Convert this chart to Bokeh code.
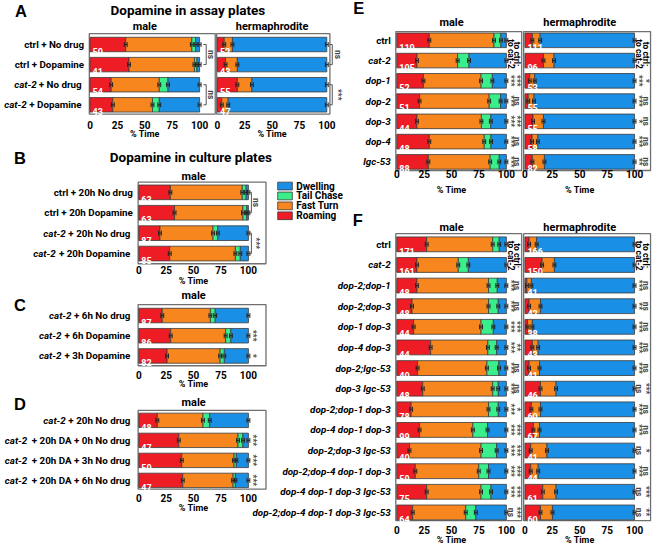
from math import pi
import numpy as np
from bokeh.plotting import figure
from bokeh.models import Range1d, ColumnDataSource
from bokeh.core.properties import value
from bokeh.embed import file_html
from bokeh.resources import INLINE

# ---------------------------------------------------------------- data
BEHAVIORS = ["Roaming", "Fast Turn", "Tail Chase", "Dwelling"]
LEGEND_ORDER = ["Dwelling", "Tail Chase", "Fast Turn", "Roaming"]

A_labels = ["ctrl + No drug", "ctrl + Dopamine", "cat-2 + No drug", "cat-2 + Dopamine"]
A_male_roam = [32.6, 35.6, 19.3, 20.8]
A_male_fast = [60.3, 59.7, 43.9, 36.2]
A_male_tail = [3.5, 2.3, 8.0, 6.2]
A_male_dwell = [3.6, 2.4, 28.8, 36.8]
A_male_n = [50, 41, 54, 43]
A_herm_roam = [6.2, 7.4, 18.2, 3.9]
A_herm_fast = [7.5, 10.8, 13.3, 5.9]
A_herm_tail = [0, 0, 0, 0]
A_herm_dwell = [86.3, 81.8, 68.5, 90.2]
A_herm_n = [52, 43, 55, 47]
A_male_sig = [(0, 1, "ns"), (2, 3, "ns")]
A_herm_sig = [(0, 1, "ns"), (2, 3, "***")]

B_labels = ["ctrl + 20h No drug", "ctrl + 20h Dopamine", "cat-2 + 20h No drug", "cat-2 + 20h Dopamine"]
B_roam = [28.8, 32.6, 19.3, 28.2]
B_fast = [65.6, 62.4, 48.4, 59.9]
B_tail = [3.5, 3.5, 4.4, 4.5]
B_dwell = [2.1, 1.5, 27.9, 7.4]
B_n = [63, 63, 87, 85]
B_sig = [(0, 1, "ns"), (2, 3, "***")]

C_labels = ["cat-2 + 6h No drug", "cat-2 + 6h Dopamine", "cat-2 + 3h Dopamine"]
C_roam = [21.4, 29.1, 25.8]
C_fast = [43.9, 50.1, 48.4]
C_tail = [4.4, 4.8, 3.8]
C_dwell = [30.3, 16.0, 22.0]
C_n = [87, 86, 82]
C_sig = ["", "***", "*"]

D_labels = ["cat-2 + 20h No drug", "cat-2 + 20h DA + 0h No drug",
            "cat-2 + 20h DA + 3h No drug", "cat-2 + 20h DA + 6h No drug"]
D_roam = [16.9, 36.5, 39.2, 40.1]
D_fast = [41.6, 54.0, 47.7, 45.9]
D_tail = [6.2, 4.5, 2.1, 2.1]
D_dwell = [35.3, 5.0, 11.0, 11.9]
D_n = [48, 47, 50, 47]
D_sig = ["", "***", "***", "***"]

E_labels = ["ctrl", "cat-2", "dop-1", "dop-2", "dop-3", "dop-4", "lgc-53"]
E_male_roam = [29.7, 18.4, 24.3, 20.8, 18.4, 29.7, 28.8]
E_male_fast = [59.0, 37.1, 52.6, 63.5, 58.8, 50.1, 56.4]
E_male_tail = [6.3, 10.4, 10.3, 10.4, 8.6, 6.2, 8.3]
E_male_dwell = [5.0, 34.1, 12.8, 5.3, 14.2, 14.0, 6.5]
E_male_n = [110, 105, 52, 51, 44, 48, 88]
E_herm_roam = [6.8, 16.9, 4.4, 3.0, 7.4, 6.5, 6.8]
E_herm_fast = [7.1, 9.7, 4.5, 5.3, 9.5, 5.3, 11.0]
E_herm_tail = [0, 0, 0, 0, 0, 0, 0]
E_herm_dwell = [86.1, 73.4, 91.1, 91.7, 83.1, 88.2, 82.2]
E_herm_n = [111, 96, 53, 55, 55, 58, 82]
E_male_vs_cat2 = ["", "", "***", "***", "***", "***", "***"]
E_male_vs_ctrl = ["", "", "***", "ns", "***", "ns", "ns"]
E_herm_vs_cat2 = ["", "", "***", "***", "*", "***", "**"]
E_herm_vs_ctrl = ["", "", "*", "ns", "ns", "ns", "ns"]

F_labels = ["ctrl", "cat-2", "dop-2;dop-1", "dop-2;dop-3", "dop-1 dop-3", "dop-4 dop-3",
            "dop-2;lgc-53", "dop-3 lgc-53", "dop-2;dop-1 dop-3", "dop-4 dop-1 dop-3",
            "dop-2;dop-3 lgc-53", "dop-2;dop-4 dop-1 dop-3", "dop-4 dop-1 dop-3 lgc-53",
            "dop-2;dop-4 dop-1 dop-3 lgc-53"]
F_male_roam = [27.3, 18.4, 18.4, 13.9, 15.4, 30.9, 19.0, 23.7, 13.1, 20.8, 11.6, 16.9, 27.3, 14.5]
F_male_fast = [60.2, 37.7, 65.3, 69.8, 61.5, 52.2, 63.2, 63.8, 70.6, 48.6, 65.3, 57.9, 49.6, 48.4]
F_male_tail = [6.0, 9.2, 8.0, 8.9, 11.2, 8.0, 11.0, 5.1, 8.9, 13.4, 14.2, 8.9, 9.1, 9.2]
F_male_dwell = [6.5, 34.7, 8.3, 7.4, 11.9, 8.9, 6.8, 7.4, 7.4, 17.2, 8.9, 16.3, 14.0, 27.9]
F_male_n = [171, 161, 48, 48, 44, 44, 40, 48, 78, 99, 40, 59, 75, 64]
F_herm_roam = [3.8, 15.7, 1.8, 3.8, 2.4, 6.8, 3.8, 14.2, 5.9, 7.7, 5.3, 5.3, 16.3, 14.2]
F_herm_fast = [6.9, 11.2, 4.1, 10.4, 4.4, 5.3, 9.5, 14.2, 8.3, 5.6, 14.8, 6.8, 12.1, 10.9]
F_herm_tail = [0] * 14
F_herm_dwell = [89.3, 73.1, 94.1, 85.8, 93.2, 87.9, 86.7, 71.6, 85.8, 86.7, 79.9, 87.9, 71.6, 74.9]
F_herm_n = [166, 150, 41, 42, 38, 43, 41, 46, 60, 67, 41, 44, 61, 60]
F_male_vs_cat2 = ["", "", "***", "***", "***", "***", "***", "***", "***", "***", "***", "***", "***", "ns"]
F_male_vs_ctrl = ["", "", "ns", "ns", "***", "**", "ns", "ns", "*", "***", "***", "***", "***", "***"]
F_herm_vs_cat2 = ["", "", "***", "**", "***", "***", "***", "ns", "***", "***", "ns", "***", "ns", "ns"]
F_herm_vs_ctrl = ["", "", "ns", "ns", "ns", "ns", "ns", "***", "ns", "ns", "*", "ns", "***", "**"]

TICKS = [0, 25, 50, 75, 100]

# ---------------------------------------------------------------- style
COLORS = {"Roaming": "#ee1c25", "Fast Turn": "#f7861f", "Tail Chase": "#3aee8c", "Dwelling": "#1a8fe6"}
EDGE = "#3a3a3a"
FRAME = "#707070"
FONT = "Roboto"
LETTER_FONT = "Liberation Sans"
REF_W, REF_H = 668, 560          # layout units (reference pixels)
W, H = 652, 544                  # figure size in screen pixels
BAR_H = 0.72
LABEL_PX = 9.8

# approximate Roboto Bold advance widths (em) for label width estimates
RB = {' ': 0.25, '+': 0.56, '-': 0.28, ';': 0.22, ':': 0.22, '%': 0.73, 'A': 0.67,
      'D': 0.66, 'N': 0.71, 'a': 0.545, 'c': 0.525, 'd': 0.56, 'e': 0.53, 'g': 0.56,
      'h': 0.555, 'i': 0.25, 'l': 0.25, 'm': 0.87, 'n': 0.555, 'o': 0.57, 'p': 0.56,
      'r': 0.35, 's': 0.52, 't': 0.33, 'u': 0.555, 'y': 0.49}


def tw(s, size_px):
    return sum(RB.get(c, 0.562) for c in s) * size_px * 1.045


p = figure(width=W, height=H, output_backend="svg", toolbar_location=None,
           x_range=Range1d(0, REF_W), y_range=Range1d(REF_H, 0),
           x_axis_type=None, y_axis_type=None, min_border=0)
p.outline_line_color = None


def txt(x, y, t, size, xr="default", yr="default", align="left", base="middle",
        style="bold", color="black", angle=0.0, font=FONT, xo=0.0, yo=0.0):
    n = len(t)
    data = dict(x=list(x), y=list(y), t=list(t))
    data["st"] = style if isinstance(style, list) else [style] * n
    data["xo"] = xo if isinstance(xo, list) else [xo] * n
    src = ColumnDataSource(data)
    p.text(x="x", y="y", text="t", source=src, x_range_name=xr, y_range_name=yr,
           text_font=value(font), text_font_size=value("%.1fpx" % size),
           text_font_style="st", text_color=color, text_align=align,
           text_baseline=base, angle=angle, x_offset="xo", y_offset=yo)


def panel(key, g, labels, roam, fast, tail, dwell, nvals, title, label_mode):
    xr, yr = key + "_x", key + "_y"
    k = (g["x100"] - g["x0"]) / 100.0
    xs = -g["x0"] / k
    p.extra_x_ranges[xr] = Range1d(start=xs, end=xs + REF_W / k)
    ye = -g["y0"] / g["dy"]
    p.extra_y_ranges[yr] = Range1d(start=ye + REF_H / g["dy"], end=ye)
    rows = np.arange(len(labels))

    # panel frame
    p.quad(left=[g["fl"]], right=[g["fr"]], top=[g["ft"]], bottom=[g["fb"]],
           fill_color=None, line_color=FRAME, line_width=1.3)

    # stacked bars
    left = np.zeros(len(labels))
    bounds = []
    for vals, name in zip([roam, fast, tail, dwell], BEHAVIORS):
        v = np.array(vals, dtype=float)
        m = v > 0
        src = ColumnDataSource(dict(y=rows[m], left=left[m], right=(left + v)[m]))
        p.hbar(y="y", left="left", right="right", height=BAR_H, source=src,
               x_range_name=xr, y_range_name=yr, fill_color=COLORS[name],
               line_color=EDGE, line_width=0.8)
        left = left + v
        for r in rows[m]:
            bounds.append((left[r], r))
    # small error whiskers at every segment boundary
    bx = np.array([b[0] for b in bounds])
    by = np.array([b[1] for b in bounds], dtype=float)
    p.segment(x0=bx - 1.3, x1=bx + 1.3, y0=by, y1=by, x_range_name=xr, y_range_name=yr,
              line_color="#222222", line_width=1)
    for s in (-1.3, 1.3):
        p.segment(x0=bx + s, x1=bx + s, y0=by - 0.12, y1=by + 0.12, x_range_name=xr,
                  y_range_name=yr, line_color="#222222", line_width=1)

    # n counts
    txt([0] * len(rows), rows + 0.34, [str(v) for v in nvals], 9, xr, yr,
        base="alphabetic", color="white", xo=2.5)

    # tick labels and axis title
    txt(TICKS, [g["tick"]] * len(TICKS), [str(t) for t in TICKS], 10, xr, "default",
        align="center")
    txt([50], [g["xl"]], ["% Time"], 9, xr, "default", align="center")
    if title:
        txt([50], [g["title_y"]], [title], 11, xr, "default", align="center")

    # category labels
    if label_mode == "mixed":
        pre_t, pre_y, pre_xo, suf_t, suf_y = [], [], [], [], []
        for i, lab in enumerate(labels):
            if lab.startswith("cat-2"):
                suffix = lab[len("cat-2"):]
                pre_t.append("cat-2")
                pre_y.append(i)
                pre_xo.append(-6 - tw(suffix, LABEL_PX))
            else:
                suffix = lab
            suf_t.append(suffix)
            suf_y.append(i)
        txt([0] * len(suf_t), suf_y, suf_t, LABEL_PX, xr, yr, align="right", xo=-6)
        if pre_t:
            txt([0] * len(pre_t), pre_y, pre_t, LABEL_PX, xr, yr, align="right",
                style="bold italic", xo=pre_xo)
    elif label_mode == "italic":
        st = ["bold" if lab == "ctrl" else "bold italic" for lab in labels]
        txt([0] * len(labels), rows, labels, LABEL_PX, xr, yr, align="right", style=st,
            xo=-6)
    return xr, yr


def brackets(xr, yr, sig, bx, tx):
    for i, j, s in sig:
        p.segment(x0=[bx, bx - 2.5, bx - 2.5], x1=[bx, bx, bx], y0=[i, i, j], y1=[j, i, j],
                  x_range_name=xr, y_range_name=yr, line_color="#555555", line_width=1)
        txt([tx], [(i + j) / 2.0], [s], 8.5, xr, yr, align="center", color="#444444",
            angle=-pi / 2)


def column_sig(xr, yr, sig, x):
    idx = [i for i, s in enumerate(sig) if s]
    txt([x] * len(idx), idx, [sig[i] for i in idx], 8.5, xr, yr, align="center",
        color="#444444", angle=-pi / 2)


# ---------------------------------------------------------------- layout (reference px)
G = {
    "Am": dict(x0=91.7, x100=204.0, y0=45.3, dy=20.7, fl=91, fr=220, ft=34, fb=117,
               tick=128, xl=137, title_y=27),
    "Ah": dict(x0=222.3, x100=334.3, y0=45.3, dy=20.7, fl=221.5, fr=337.5, ft=34, fb=117,
               tick=128, xl=137, title_y=27),
    "B": dict(x0=141.7, x100=254.0, y0=197.5, dy=21.0, fl=141, fr=272, ft=187, fb=271,
              tick=277.5, xl=289, title_y=181.5),
    "C": dict(x0=141.7, x100=254.0, y0=324.3, dy=20.8, fl=141, fr=272, ft=313, fb=376,
              tick=385, xl=395, title_y=304),
    "D": dict(x0=141.7, x100=254.0, y0=432.2, dy=20.6, fl=141, fr=272, ft=422, fb=503,
              tick=512.5, xl=522.5, title_y=414),
    "Em": dict(x0=406.0, x100=518.3, y0=41.0, dy=20.85, fl=405, fr=534, ft=32, fb=175,
               tick=179, xl=195, title_y=23),
    "Eh": dict(x0=537.3, x100=649.6, y0=41.0, dy=20.85, fl=536, fr=666, ft=32, fb=175,
               tick=179, xl=195, title_y=23),
    "Fm": dict(x0=406.0, x100=518.3, y0=251.0, dy=21.23, fl=405, fr=534, ft=240, fb=535.5,
               tick=545, xl=555, title_y=234),
    "Fh": dict(x0=537.3, x100=649.6, y0=251.0, dy=21.23, fl=536, fr=666, ft=240, fb=535.5,
               tick=545, xl=555, title_y=234),
}

xr, yr = panel("Am", G["Am"], A_labels, A_male_roam, A_male_fast, A_male_tail, A_male_dwell,
               A_male_n, "male", "mixed")
brackets(xr, yr, A_male_sig, 106, 110.5)
xr, yr = panel("Ah", G["Ah"], A_labels, A_herm_roam, A_herm_fast, A_herm_tail, A_herm_dwell,
               A_herm_n, "hermaphrodite", None)
brackets(xr, yr, A_herm_sig, 105, 110)

xr, yr = panel("B", G["B"], B_labels, B_roam, B_fast, B_tail, B_dwell, B_n, "male", "mixed")
brackets(xr, yr, B_sig, 102.7, 107)
xr, yr = panel("C", G["C"], C_labels, C_roam, C_fast, C_tail, C_dwell, C_n, "male", "mixed")
column_sig(xr, yr, C_sig, 103.8)
xr, yr = panel("D", G["D"], D_labels, D_roam, D_fast, D_tail, D_dwell, D_n, "male", "mixed")
column_sig(xr, yr, D_sig, 103.8)

for key, lab, parts, t_y in [
        ("Em", E_labels, (E_male_roam, E_male_fast, E_male_tail, E_male_dwell, E_male_n,
                          E_male_vs_cat2, E_male_vs_ctrl, "male"), 0.68),
        ("Eh", E_labels, (E_herm_roam, E_herm_fast, E_herm_tail, E_herm_dwell, E_herm_n,
                          E_herm_vs_cat2, E_herm_vs_ctrl, "hermaphrodite"), 0.68),
        ("Fm", F_labels, (F_male_roam, F_male_fast, F_male_tail, F_male_dwell, F_male_n,
                          F_male_vs_cat2, F_male_vs_ctrl, "male"), 0.55),
        ("Fh", F_labels, (F_herm_roam, F_herm_fast, F_herm_tail, F_herm_dwell, F_herm_n,
                          F_herm_vs_cat2, F_herm_vs_ctrl, "hermaphrodite"), 0.55)]:
    r, f, t, d, n, vs_cat2, vs_ctrl, title = parts
    xr, yr = panel(key, G[key], lab, r, f, t, d, n, title,
                   "italic" if key.endswith("m") else None)
    column_sig(xr, yr, vs_cat2, 104)
    column_sig(xr, yr, vs_ctrl, 110)
    txt([104], [t_y], ["to cat-2"], 8.5, xr, yr, align="center", angle=-pi / 2)
    txt([110], [t_y], ["to ctrl:"], 8.5, xr, yr, align="center", angle=-pi / 2)

# panel letters and titles
txt([21, 20, 20, 20, 367, 366], [11, 162, 313, 415, 8, 226], list("ABCDEF"), 16.5,
    align="center", font=LETTER_FONT)
txt([192, 195], [10, 161], ["Dopamine in assay plates", "Dopamine in culture plates"], 13.5,
    align="center")

# legend
for i, name in enumerate(LEGEND_ORDER):
    yc = 191 + 10.2 * i
    p.quad(left=[284], right=[299], top=[yc - 4], bottom=[yc + 4],
           fill_color=COLORS[name], line_color=EDGE, line_width=0.8)
    txt([303], [yc], [name], 10)

open("out.html", "w").write(file_html(p, INLINE))
